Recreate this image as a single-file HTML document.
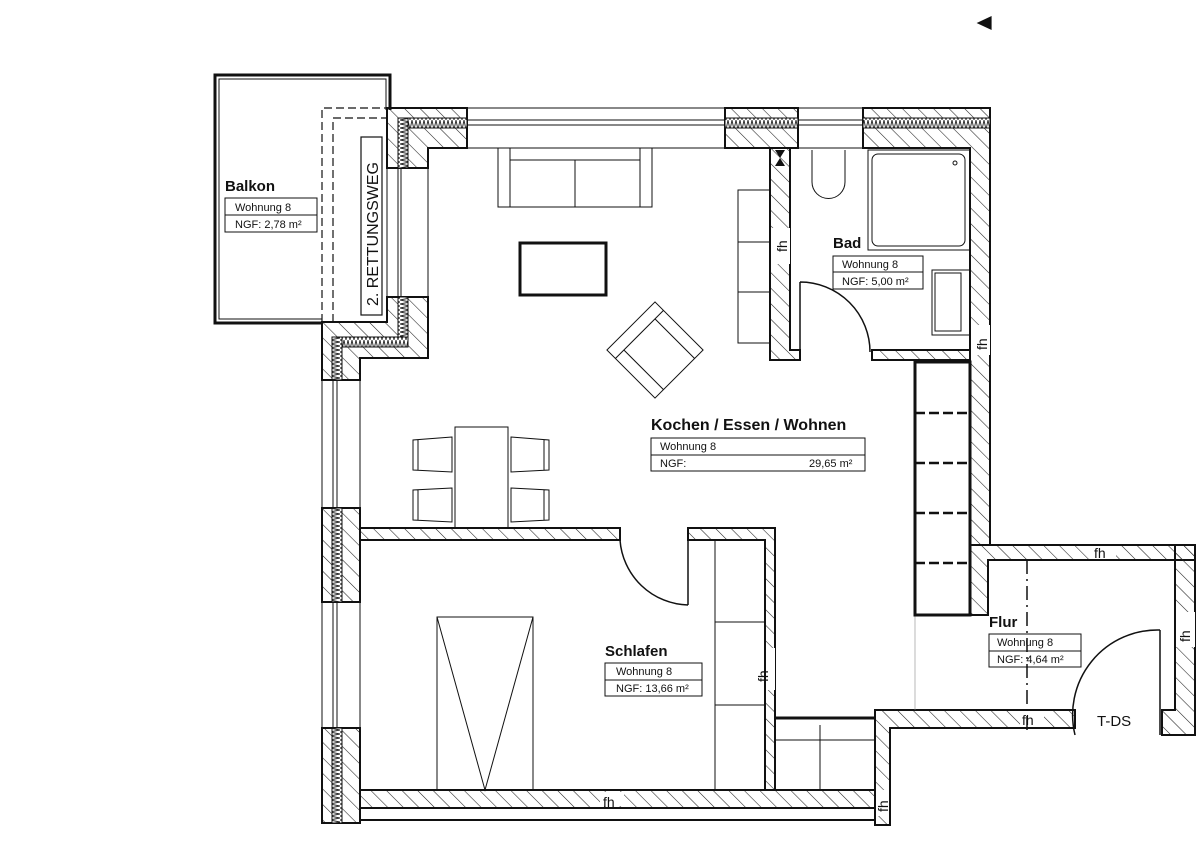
<!DOCTYPE html>
<html><head><meta charset="utf-8"><style>
html,body{margin:0;padding:0;background:#fff}
svg{display:block}
text{font-family:"Liberation Sans",sans-serif;fill:#111}
</style></head><body>
<svg width="1200" height="848" viewBox="0 0 1200 848" xmlns="http://www.w3.org/2000/svg">
<defs>
<pattern id="h" patternUnits="userSpaceOnUse" width="11" height="11" patternTransform="rotate(-45)">
<line x1="0" y1="0" x2="0" y2="11" stroke="#222" stroke-width="1.1"/>
</pattern>
<pattern id="ins" patternUnits="userSpaceOnUse" width="4" height="10">
<polyline points="0,0 2,10 4,0" fill="none" stroke="#222" stroke-width="0.9"/>
</pattern>
<pattern id="insv" patternUnits="userSpaceOnUse" width="10" height="4">
<polyline points="0,0 10,2 0,4" fill="none" stroke="#222" stroke-width="0.9"/>
</pattern>
</defs>
<g stroke="#111" fill="none" stroke-width="1.2">
<polygon points="978,23 991,17 991,29" fill="#111"/>

<polyline points="322,323 215,323 215,75 390,75 390,110" stroke-width="3"/>
<polyline points="322,319 219,319 219,79 386,79 386,110" stroke-width="1"/>
<path d="M322,322 V108 H387 M333,322 V118 H387" stroke-dasharray="8,4"/>
<rect x="361" y="137" width="21" height="178"/>
<text transform="translate(378,306) rotate(-90)" font-size="16" stroke="none">2. RETTUNGSWEG</text>

<polygon points="387,108 467,108 467,148 428,148 428,168 387,168" fill="url(#h)" stroke-width="2"/>
<rect x="398" y="118" width="69" height="10" fill="#fff" stroke="none"/>
<rect x="398" y="118" width="69" height="10" fill="url(#ins)" stroke-width="1"/>
<rect x="398" y="118" width="10" height="50" fill="#fff" stroke="none"/>
<rect x="398" y="118" width="10" height="50" fill="url(#insv)" stroke-width="1"/>
<path d="M467,108 H725 M467,120 H725 M467,125 H725 M467,148 H725" stroke-width="1"/>
<rect x="725" y="108" width="73" height="40" fill="url(#h)" stroke-width="2"/>
<rect x="725" y="118" width="73" height="10" fill="#fff" stroke="none"/>
<rect x="725" y="118" width="73" height="10" fill="url(#ins)" stroke-width="1"/>
<path d="M798,108 H863 M798,120 H863 M798,125 H863 M798,148 H863" stroke-width="1"/>
<polygon points="863,108 990,108 990,545 970,545 970,148 863,148" fill="url(#h)" stroke-width="2"/>
<rect x="863" y="118" width="127" height="10" fill="#fff" stroke="none"/>
<rect x="863" y="118" width="127" height="10" fill="url(#ins)" stroke-width="1"/>
<rect x="971" y="325" width="19" height="30" fill="#fff" stroke="none"/>
<text transform="translate(987,350) rotate(-90)" font-size="14" stroke="none">fh</text>

<path d="M387,168 V297 M398,168 V297 M401,168 V297 M428,168 V297" stroke-width="1"/>
<polygon points="387,297 428,297 428,358 360,358 360,380 322,380 322,322 387,322" fill="url(#h)" stroke-width="2"/>
<rect x="398" y="297" width="10" height="50" fill="#fff" stroke="none"/>
<rect x="398" y="297" width="10" height="50" fill="url(#insv)" stroke-width="1"/>
<rect x="335" y="337" width="73" height="10" fill="#fff" stroke="none"/>
<rect x="335" y="337" width="73" height="10" fill="url(#ins)" stroke-width="1"/>
<rect x="332" y="337" width="10" height="43" fill="#fff" stroke="none"/>
<rect x="332" y="337" width="10" height="43" fill="url(#insv)" stroke-width="1"/>
<path d="M322,380 V508 M333,380 V508 M337,380 V508 M360,380 V508" stroke-width="1"/>
<rect x="322" y="508" width="38" height="94" fill="url(#h)" stroke-width="2"/>
<rect x="332" y="508" width="10" height="94" fill="#fff" stroke="none"/>
<rect x="332" y="508" width="10" height="94" fill="url(#insv)" stroke-width="1"/>
<path d="M322,602 V728 M333,602 V728 M337,602 V728 M360,602 V728" stroke-width="1"/>
<rect x="322" y="728" width="38" height="95" fill="url(#h)" stroke-width="2"/>
<rect x="332" y="728" width="10" height="95" fill="#fff" stroke="none"/>
<rect x="332" y="728" width="10" height="95" fill="url(#insv)" stroke-width="1"/>

<rect x="360" y="790" width="515" height="18" fill="url(#h)" stroke-width="2"/>
<rect x="600" y="792" width="24" height="14" fill="#fff" stroke="none"/>
<text x="603" y="807" font-size="14" stroke="none">fh</text>
<path d="M360,820 H875" stroke-width="2"/>

<rect x="360" y="528" width="260" height="12" fill="url(#h)" stroke-width="2"/>
<polygon points="688,528 775,528 775,790 765,790 765,540 688,540" fill="url(#h)" stroke-width="2"/>
<rect x="766" y="648" width="9" height="42" fill="#fff" stroke="none"/>
<text transform="translate(768,682) rotate(-90)" font-size="14" stroke="none">fh</text>
<path d="M620,540 A70,70 0 0 0 688,605 M688,540 V605" stroke-width="1.5"/>

<path d="M775,718 H875" stroke-width="3"/>
<path d="M820,725 V790 M775,740 H875" stroke-width="1"/>
<polygon points="875,710 1075,710 1075,728 890,728 890,825 875,825" fill="url(#h)" stroke-width="2"/>
<rect x="876" y="790" width="13" height="26" fill="#fff" stroke="none"/>
<text transform="translate(888,812) rotate(-90)" font-size="14" stroke="none">fh</text>
<rect x="1020" y="711" width="24" height="16" fill="#fff" stroke="none"/>
<text x="1022" y="725" font-size="14" stroke="none">fh</text>
<text x="1097" y="726" font-size="15" stroke="none">T-DS</text>
<polygon points="970,545 1195,545 1195,560 988,560 988,615 970,615" fill="url(#h)" stroke-width="2"/>
<rect x="1090" y="546" width="26" height="13" fill="#fff" stroke="none"/>
<text x="1094" y="558" font-size="14" stroke="none">fh</text>
<polygon points="1175,545 1195,545 1195,735 1162,735 1162,710 1175,710" fill="url(#h)" stroke-width="2"/>
<rect x="1176" y="612" width="19" height="35" fill="#fff" stroke="none"/>
<text transform="translate(1190,642) rotate(-90)" font-size="14" stroke="none">fh</text>
<path d="M1075,735 A85,85 0 0 1 1160,630 M1160,630 V735" stroke-width="1.5"/>
<path d="M915,615 V710" stroke-width="0.6" stroke="#888"/>
<path d="M1027,560 V735" stroke-dasharray="14,5,2,5" stroke-width="1.5"/>

<rect x="915" y="362" width="55" height="253" stroke-width="3"/>
<path d="M915,413 H970 M915,463 H970 M915,513 H970 M915,563 H970" stroke-width="2.5" stroke-dasharray="10,4"/>

<polygon points="770,148 790,148 790,350 800,350 800,360 770,360" fill="url(#h)" stroke-width="2"/>
<rect x="771" y="228" width="19" height="36" fill="#fff" stroke="none"/>
<text transform="translate(787,252) rotate(-90)" font-size="14" stroke="none">fh</text>
<polygon points="775,150 785,150 780,158" fill="#111" stroke="none"/>
<polygon points="775,166 785,166 780,158" fill="#111" stroke="none"/>
<rect x="872" y="350" width="98" height="10" fill="url(#h)" stroke-width="2"/>
<path d="M800,282 A70,70 0 0 1 870,352 M800,282 V360" stroke-width="1.5"/>
<path d="M812,150 V182 A16,16 0 0 0 845,182 V150" stroke-width="1"/>
<rect x="868" y="150" width="102" height="100" stroke-width="1"/>
<rect x="872" y="154" width="93" height="92" rx="6" stroke-width="1"/>
<circle cx="955" cy="163" r="2" stroke-width="1"/>
<rect x="932" y="270" width="38" height="65" stroke-width="1"/>
<rect x="935" y="273" width="26" height="58" stroke-width="1"/>
<path d="M770,190 H738 V343 H770 M738,242 H770 M738,292 H770" stroke-width="1"/>

<rect x="498" y="148" width="154" height="59" stroke-width="1"/>
<path d="M510,148 V207 M640,148 V207 M510,160 H640 M575,160 V207" stroke-width="1"/>
<rect x="520" y="243" width="86" height="52" stroke-width="3"/>
<g transform="translate(655,350) rotate(-45)">
<rect x="-34" y="-34" width="68" height="68" stroke-width="1"/>
<path d="M-34,-22 H34 M-22,-22 V34 M22,-22 V34" stroke-width="1"/>
</g>
<rect x="455" y="427" width="53" height="101" stroke-width="1"/>
<path d="M452,437 L413,440 V470 L452,472 Z M418,440 V470" stroke-width="1"/>
<path d="M452,488 L413,490 V520 L452,522 Z M418,490 V520" stroke-width="1"/>
<path d="M511,437 L549,440 V470 L511,472 Z M544,440 V470" stroke-width="1"/>
<path d="M511,488 L549,490 V520 L511,522 Z M544,490 V520" stroke-width="1"/>

<rect x="437" y="617" width="96" height="173" stroke-width="1"/>
<path d="M437,617 L485,790 L533,617" stroke-width="1"/>
<path d="M715,540 V790 M715,622 H765 M715,705 H765" stroke-width="1"/>
</g>

<g font-family="Liberation Sans, sans-serif">
<text x="225" y="191" font-size="15" font-weight="bold">Balkon</text>
<rect x="225" y="198" width="92" height="34" fill="none" stroke="#111"/>
<line x1="225" y1="215" x2="317" y2="215" stroke="#111"/>
<text x="235" y="211" font-size="11">Wohnung 8</text>
<text x="235" y="228" font-size="11">NGF: 2,78 m²</text>

<text x="833" y="248" font-size="15" font-weight="bold">Bad</text>
<rect x="833" y="256" width="90" height="33" fill="#fff" stroke="#111"/>
<line x1="833" y1="272" x2="923" y2="272" stroke="#111"/>
<text x="842" y="268" font-size="11">Wohnung 8</text>
<text x="842" y="285" font-size="11">NGF: 5,00 m²</text>

<text x="651" y="430" font-size="16" font-weight="bold">Kochen / Essen / Wohnen</text>
<rect x="651" y="438" width="214" height="33" fill="#fff" stroke="#111"/>
<line x1="651" y1="455" x2="865" y2="455" stroke="#111"/>
<text x="660" y="450" font-size="11">Wohnung 8</text>
<text x="660" y="467" font-size="11">NGF:</text>
<text x="809" y="467" font-size="11">29,65 m²</text>

<text x="605" y="656" font-size="15" font-weight="bold">Schlafen</text>
<rect x="605" y="663" width="97" height="33" fill="#fff" stroke="#111"/>
<line x1="605" y1="680" x2="702" y2="680" stroke="#111"/>
<text x="616" y="675" font-size="11">Wohnung 8</text>
<text x="616" y="692" font-size="11">NGF: 13,66 m²</text>

<text x="989" y="627" font-size="15" font-weight="bold">Flur</text>
<rect x="989" y="634" width="92" height="33" fill="none" stroke="#111"/>
<line x1="989" y1="651" x2="1081" y2="651" stroke="#111"/>
<text x="997" y="646" font-size="11">Wohnung 8</text>
<text x="997" y="663" font-size="11">NGF: 4,64 m²</text>
</g>
</svg>
</body></html>
